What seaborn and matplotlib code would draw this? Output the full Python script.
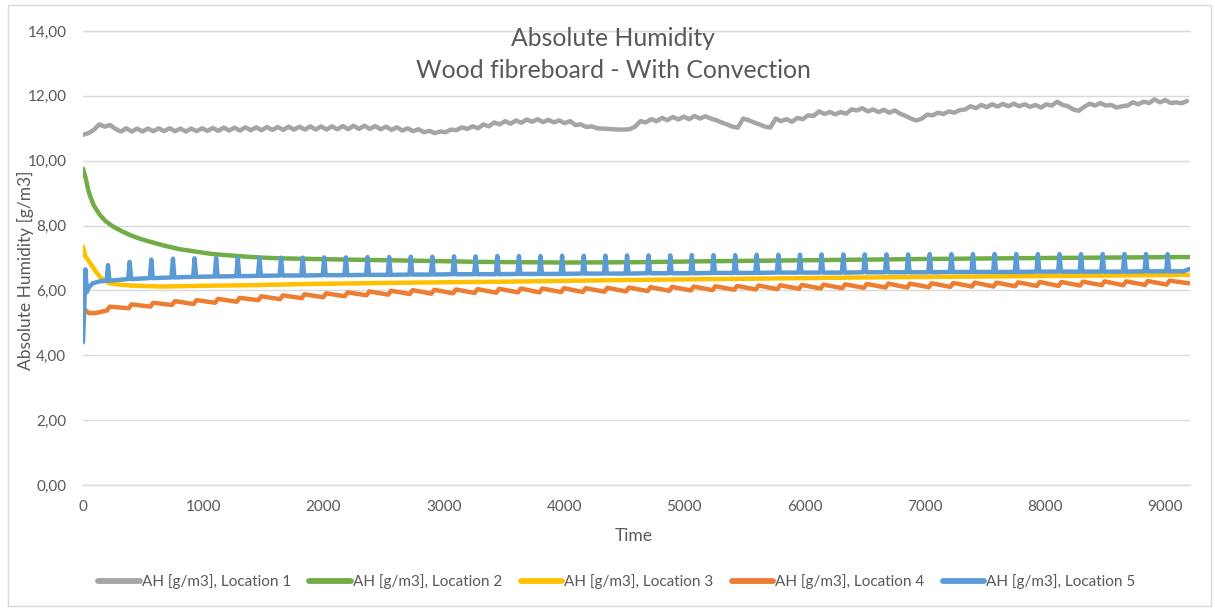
import numpy as np
import pandas as pd
import matplotlib
matplotlib.use("Agg")
import matplotlib.pyplot as plt
from matplotlib.lines import Line2D
from matplotlib.patches import Rectangle
from matplotlib.ticker import FuncFormatter
import seaborn as sns

# ---------------- data ----------------
title_lines = ["Absolute Humidity", "Wood fibreboard - With Convection"]
x_label = "Time"
y_label = "Absolute Humidity [g/m3]"
locations = ["AH [g/m3], Location 1", "AH [g/m3], Location 2", "AH [g/m3], Location 3",
             "AH [g/m3], Location 4", "AH [g/m3], Location 5"]
colors = ["#A5A5A5", "#70AD47", "#FFC000", "#ED7D31", "#5B9BD5"]

# Location 1: sampled every 45 time units from 0 to 9180
loc1_t = np.arange(0, 9181, 45)
loc1_v = [
    10.80, 10.85, 10.95, 11.12, 11.05, 11.10, 10.98, 10.90,
    11.00, 10.90, 10.99, 10.90, 10.99, 10.91, 11.00, 10.91, 11.00, 10.91, 10.99, 10.90, 10.99, 10.91, 11.00,
    10.92, 11.01, 10.92, 11.02, 10.93, 11.02, 10.93, 11.03, 10.94, 11.03, 10.94, 11.04, 10.95, 11.04,
    10.95, 11.05, 10.96, 11.05, 10.96, 11.06, 10.96, 11.06, 10.96, 11.06, 10.97, 11.07, 10.97, 11.08,
    10.98, 11.08, 10.98, 11.07, 10.97, 11.05, 10.95, 11.03, 10.93, 11.00, 10.91, 10.97, 10.88, 10.92,
    10.85, 10.90, 10.88, 10.96, 10.94, 11.03, 10.98, 11.06, 11.00, 11.12, 11.06, 11.18, 11.12, 11.22,
    11.14, 11.24, 11.17, 11.27, 11.20, 11.28, 11.19, 11.26, 11.18, 11.24, 11.16, 11.22, 11.10, 11.12,
    11.04, 11.06, 11.00, 10.99, 10.98, 10.97, 10.96, 10.96, 10.97, 11.05, 11.22, 11.18, 11.28, 11.22,
    11.32, 11.25, 11.35, 11.27, 11.36, 11.28, 11.38, 11.30, 11.37, 11.30, 11.25, 11.18, 11.12, 11.05,
    11.02, 11.30, 11.25, 11.18, 11.12, 11.05, 11.02, 11.30, 11.22, 11.28, 11.20, 11.32, 11.28, 11.40,
    11.38, 11.52, 11.44, 11.50, 11.43, 11.50, 11.45, 11.58, 11.55, 11.62, 11.52, 11.58, 11.50, 11.57,
    11.48, 11.55, 11.45, 11.38, 11.30, 11.24, 11.30, 11.42, 11.40, 11.48, 11.44, 11.52, 11.48, 11.56,
    11.58, 11.68, 11.62, 11.72, 11.65, 11.74, 11.67, 11.75, 11.68, 11.76, 11.68, 11.74, 11.66, 11.72,
    11.64, 11.74, 11.70, 11.82, 11.72, 11.68, 11.58, 11.54, 11.66, 11.76, 11.70, 11.78, 11.70, 11.72,
    11.64, 11.68, 11.70, 11.80, 11.74, 11.82, 11.78, 11.89, 11.80, 11.87, 11.78, 11.80, 11.77, 11.84,
]

# Location 2
loc2_t = [0, 10, 25, 40, 58, 90, 140, 190, 250, 320, 390, 460, 530, 600, 665, 735, 805, 880, 950, 1080,
          1220, 1360, 1500, 1640, 1910, 2200, 2720, 3300, 4000, 4600, 5200, 6000, 7000, 8000, 9200]
loc2_v = [9.75, 9.62, 9.42, 9.15, 8.92, 8.62, 8.33, 8.13, 7.97, 7.83, 7.71, 7.61, 7.53, 7.46, 7.39, 7.33,
          7.27, 7.23, 7.19, 7.12, 7.08, 7.04, 7.01, 6.99, 6.97, 6.95, 6.92, 6.88, 6.86, 6.87, 6.90, 6.93,
          6.97, 7.00, 7.03]

# Location 3
loc3_t = [0, 10, 20, 40, 60, 100, 140, 180, 225, 300, 400, 665, 950, 1360, 1900, 2720, 3500, 4500, 5500,
          6500, 7500, 8500, 9200]
loc3_v = [7.35, 7.20, 7.05, 6.95, 6.84, 6.62, 6.42, 6.30, 6.22, 6.18, 6.15, 6.12, 6.14, 6.16, 6.20, 6.24,
          6.27, 6.32, 6.36, 6.40, 6.43, 6.46, 6.48]

# Location 4
loc4_t = [0, 25, 50, 100, 150,
          200, 223, 380, 403, 560, 583, 740, 763, 920, 943, 1099, 1122, 1279, 1302, 1459, 1482,
          1639, 1662, 1819, 1842, 1998, 2021, 2178, 2201, 2358, 2381, 2538, 2561, 2718, 2741,
          2897, 2920, 3077, 3100, 3257, 3280, 3437, 3460, 3617, 3640, 3796, 3819, 3976, 3999,
          4156, 4179, 4336, 4359, 4516, 4539, 4695, 4718, 4875, 4898, 5055, 5078, 5235, 5258,
          5415, 5438, 5594, 5617, 5774, 5797, 5954, 5977, 6134, 6157, 6314, 6337, 6493, 6516,
          6673, 6696, 6853, 6876, 7033, 7056, 7213, 7236, 7392, 7415, 7572, 7595, 7752, 7775,
          7932, 7955, 8112, 8135, 8291, 8314, 8471, 8494, 8651, 8674, 8831, 8854, 9011, 9034,
          9200]
loc4_v = [5.45, 5.38, 5.30, 5.30, 5.34,
          5.38, 5.50, 5.45, 5.57, 5.50, 5.62, 5.55, 5.67, 5.58, 5.70, 5.62, 5.74, 5.65, 5.77, 5.70, 5.82,
          5.73, 5.85, 5.76, 5.88, 5.79, 5.91, 5.82, 5.94, 5.85, 5.97, 5.87, 5.99, 5.89, 6.01,
          5.90, 6.02, 5.91, 6.03, 5.92, 6.04, 5.93, 6.05, 5.94, 6.06, 5.94, 6.06, 5.95, 6.07,
          5.95, 6.07, 5.96, 6.08, 5.97, 6.09, 5.98, 6.10, 5.99, 6.11, 6.00, 6.12, 6.01, 6.13,
          6.02, 6.14, 6.03, 6.15, 6.04, 6.16, 6.05, 6.17, 6.06, 6.18, 6.07, 6.19, 6.08, 6.20,
          6.09, 6.21, 6.09, 6.21, 6.10, 6.22, 6.11, 6.23, 6.12, 6.24, 6.12, 6.24, 6.13, 6.25,
          6.14, 6.26, 6.14, 6.26, 6.15, 6.27, 6.16, 6.28, 6.16, 6.28, 6.17, 6.29, 6.18, 6.30,
          6.22]

# Location 5
loc5_t = [0, 12, 20, 32, 50, 80, 140,
          196, 208, 220, 376, 388, 400, 556, 568, 580, 736, 748, 760, 916, 928, 940,
          1095, 1107, 1119, 1275, 1287, 1299, 1455, 1467, 1479, 1635, 1647, 1659, 1815, 1827, 1839,
          1994, 2006, 2018, 2174, 2186, 2198, 2354, 2366, 2378, 2534, 2546, 2558, 2714, 2726, 2738,
          2893, 2905, 2917, 3073, 3085, 3097, 3253, 3265, 3277, 3433, 3445, 3457, 3613, 3625, 3637,
          3792, 3804, 3816, 3972, 3984, 3996, 4152, 4164, 4176, 4332, 4344, 4356, 4512, 4524, 4536,
          4691, 4703, 4715, 4871, 4883, 4895, 5051, 5063, 5075, 5231, 5243, 5255, 5411, 5423, 5435,
          5590, 5602, 5614, 5770, 5782, 5794, 5950, 5962, 5974, 6130, 6142, 6154, 6310, 6322, 6334,
          6489, 6501, 6513, 6669, 6681, 6693, 6849, 6861, 6873, 7029, 7041, 7053, 7209, 7221, 7233,
          7388, 7400, 7412, 7568, 7580, 7592, 7748, 7760, 7772, 7928, 7940, 7952, 8108, 8120, 8132,
          8287, 8299, 8311, 8467, 8479, 8491, 8647, 8659, 8671, 8827, 8839, 8851, 9007, 9019, 9031,
          9150, 9200]
loc5_v = [4.40, 5.60, 6.65, 5.95, 6.10, 6.22, 6.28,
          6.30, 6.78, 6.30, 6.35, 6.88, 6.35, 6.38, 6.95, 6.38, 6.40, 6.98, 6.40, 6.42, 6.99, 6.42,
          6.43, 7.00, 6.43, 6.44, 7.00, 6.44, 6.45, 7.00, 6.45, 6.46, 7.01, 6.46, 6.46, 7.01, 6.46,
          6.47, 7.02, 6.47, 6.47, 7.02, 6.47, 6.48, 7.03, 6.48, 6.48, 7.03, 6.48, 6.49, 7.04, 6.49,
          6.49, 7.04, 6.49, 6.50, 7.05, 6.50, 6.50, 7.05, 6.50, 6.50, 7.06, 6.50, 6.51, 7.06, 6.51,
          6.51, 7.06, 6.51, 6.51, 7.07, 6.51, 6.52, 7.07, 6.52, 6.52, 7.07, 6.52, 6.52, 7.08, 6.52,
          6.53, 7.08, 6.53, 6.53, 7.08, 6.53, 6.53, 7.09, 6.53, 6.54, 7.09, 6.54, 6.54, 7.09, 6.54,
          6.54, 7.10, 6.54, 6.55, 7.10, 6.55, 6.55, 7.10, 6.55, 6.55, 7.11, 6.55, 6.55, 7.11, 6.55,
          6.56, 7.11, 6.56, 6.56, 7.11, 6.56, 6.56, 7.11, 6.56, 6.56, 7.12, 6.56, 6.57, 7.12, 6.57,
          6.57, 7.12, 6.57, 6.57, 7.12, 6.57, 6.57, 7.12, 6.57, 6.58, 7.12, 6.58, 6.58, 7.12, 6.58,
          6.58, 7.12, 6.58, 6.58, 7.12, 6.58, 6.58, 7.12, 6.58, 6.59, 7.12, 6.59, 6.59, 7.12, 6.59,
          6.59, 6.66]

y_ticks = [0, 2, 4, 6, 8, 10, 12, 14]
x_ticks = [0, 1000, 2000, 3000, 4000, 5000, 6000, 7000, 8000, 9000]

# ---------------- build long table ----------------
series_t = [loc1_t, loc2_t, loc3_t, loc4_t, loc5_t]
series_v = [loc1_v, loc2_v, loc3_v, loc4_v, loc5_v]
frames = []
for name, t, v in zip(locations, series_t, series_v):
    frames.append(pd.DataFrame({"Time": np.asarray(t, dtype=float),
                                "AH": np.asarray(v, dtype=float),
                                "Location": name}))
df = pd.concat(frames, ignore_index=True)

# ---------------- styling ----------------
sns.set_style("white")
plt.rcParams["font.family"] = ["Lato", "DejaVu Sans"]
text_color = "#595959"
grid_color = "#D9D9D9"

W, H = 1215, 610
fig = plt.figure(figsize=(W / 100, H / 100), dpi=100)
ax = fig.add_axes([83 / W, 1 - 485 / H, (1190 - 83) / W, (485 - 31) / H])

sns.lineplot(data=df, x="Time", y="AH", hue="Location", hue_order=locations,
             palette=dict(zip(locations, colors)), estimator=None, sort=False,
             linewidth=3.2, legend=False, ax=ax)
for ln in ax.lines:
    ln.set_solid_joinstyle("round")
    ln.set_solid_capstyle("round")

ax.set_xlim(0, 9205)
ax.set_ylim(0, 14)
ax.set_yticks(y_ticks)
ax.set_xticks(x_ticks)
ax.yaxis.set_major_formatter(FuncFormatter(lambda v, p: f"{v:.2f}".replace(".", ",")))
ax.xaxis.set_major_formatter(FuncFormatter(lambda v, p: f"{int(v)}"))
ax.tick_params(axis="both", length=0, labelsize=11, labelcolor=text_color)
ax.tick_params(axis="y", pad=12)
ax.tick_params(axis="x", pad=11)
ax.yaxis.grid(True, color=grid_color, linewidth=1)
ax.xaxis.grid(False)
ax.set_axisbelow(True)
for s in ["left", "right"]:
    ax.spines[s].set_visible(False)
for s in ["top", "bottom"]:
    ax.spines[s].set_visible(True)
    ax.spines[s].set_color(grid_color)
    ax.spines[s].set_linewidth(1)
ax.set_xlabel("")
ax.set_ylabel("")

# texts
fig.text(613 / W, 1 - 38 / H, title_lines[0], ha="center", va="center", fontsize=17.8, color=text_color)
fig.text(613 / W, 1 - 71 / H, title_lines[1], ha="center", va="center", fontsize=17.8, color=text_color)
fig.text(634 / W, 1 - 536 / H, x_label, ha="center", va="center", fontsize=12.5, color=text_color)
fig.text(25 / W, 1 - 270 / H, y_label, ha="center", va="center", rotation=90, fontsize=12.5,
         color=text_color)

handles = [Line2D([0], [0], color=c, linewidth=4.2) for c in colors]
fig.legend(handles, locations, loc="center", bbox_to_anchor=(617 / W, 1 - 582 / H), ncol=5,
           frameon=False, fontsize=11, handlelength=2.7, handletextpad=0.15, columnspacing=1.2,
           labelcolor=text_color)

fig.patches.append(Rectangle((8 / W, 4 / H), (1211 - 8) / W, (605 - 4) / H, transform=fig.transFigure,
                             fill=False, edgecolor=grid_color, linewidth=1))

fig.savefig("out.png", dpi=100)
